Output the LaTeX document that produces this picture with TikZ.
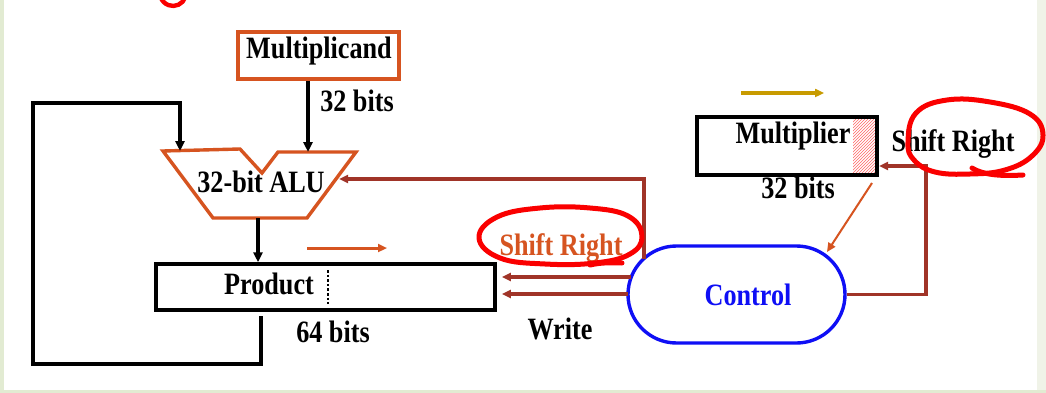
\documentclass[tikz,border=0pt]{standalone}
\usepackage{fontspec}
\setmainfont{Liberation Serif}
\usetikzlibrary{arrows.meta,patterns}
\definecolor{orng}{RGB}{214,84,32}
\definecolor{wire}{RGB}{160,52,40}
\definecolor{gold}{RGB}{200,155,0}
\definecolor{ctrlblue}{RGB}{15,15,245}
\definecolor{pen}{RGB}{250,0,0}
\definecolor{slideleft}{RGB}{226,235,210}
\definecolor{slideright}{RGB}{240,243,232}
\begin{document}
\begin{tikzpicture}[x=1pt,y=-1pt,
  lbl/.style={font=\fontsize{27}{30}\selectfont\bfseries,inner sep=0pt,anchor=base,xscale=0.97,yscale=1.15},
  blk/.style={line width=3.5pt,black},
  tip/.style={-{Triangle[length=10pt,width=9pt]}},
  smalltip/.style={-{Triangle[length=9pt,width=8pt]}},
  redwire/.style={line width=3.2pt,wire},
  hand/.style={line width=5pt,pen,line cap=round,line join=round},
  regbox/.style={draw,line width=3.5pt,inner sep=0pt}]

% page and slide margins
\useasboundingbox (0,0) rectangle (1046,393);
\fill[slideright] (0,0) rectangle (1046,393);
\fill[slideleft] (0,0) rectangle (4,393);
\fill[slideleft] (0,390) rectangle (1046,393);
\fill[white] (4,0) rectangle (1037,390);

% multiplicand register
\node[regbox,draw=orng,minimum width=161pt,minimum height=47pt] (Multiplicand) at (318.5,55.5) {};
\node[lbl] (mcandlbl) at (319,59) {Multiplicand};

% ALU outline with the notched top edge
\coordinate (alu-tl) at (163,151);
\coordinate (alu-n1) at (240,149);
\coordinate (alu-nb) at (262,173);
\coordinate (alu-n2) at (278,152);
\coordinate (alu-tr) at (356,152);
\coordinate (alu-br) at (307,218);
\coordinate (alu-bl) at (213,218);
\draw[orng,line width=3.4pt,line join=miter]
  (alu-tl) -- (alu-n1) -- (alu-nb) -- (alu-n2) -- (alu-tr) -- (alu-br) -- (alu-bl) -- cycle;
\node[lbl] (alulbl) at (261,192) {32-bit ALU};
\coordinate (alu-in1) at (180,151);
\coordinate (alu-in2) at (308,152);
\coordinate (alu-out) at (258,218);
\coordinate (alu-ctl) at (339,179);

% product register
\node[regbox,minimum width=339pt,minimum height=46pt] (Product) at (325.5,287) {};
\node[lbl] (productlbl) at (269,294) {Product};
\draw[line width=2.6pt,dotted] (328,270) -- (328,304);
\node[lbl] (bits64) at (333,342) {64 bits};

% multiplier register with its hatched low bit
\fill[pattern=north east lines,pattern color=red!60] (853,118) rectangle (876,175);
\node[regbox,minimum width=180pt,minimum height=58pt] (Multiplier) at (787,146) {};
\node[lbl] (multlbl) at (793,143) {Multiplier};
\node[lbl] (bits32b) at (798,198) {32 bits};

% control unit
\node[draw=ctrlblue,line width=3.4pt,minimum width=217pt,minimum height=97pt,
      rounded corners=48.5pt,inner sep=0pt] (Control) at (736.5,294.5) {};
\node[lbl,text=ctrlblue] (ctrllbl) at (748,305) {Control};

% datapath
\draw[blk,tip] (Multiplicand.south -| alu-in2) -- (alu-in2);
\node[lbl] (bits32a) at (357,112) {32 bits};
\draw[blk,tip] (alu-out) -- (Product.north -| alu-out);
\coordinate (fb0) at (261,316);
\draw[blk,tip] (fb0) -- (261,364) -- (33,364) -- (33,103) -- (180,103) -- (alu-in1);

% control signals
\coordinate (c-alu) at (644,258.5);
\coordinate (c-sh) at (631.3,277);
\coordinate (c-wr) at (628,294);
\draw[redwire,smalltip] (c-alu) -- (644,179) -- (alu-ctl);
\draw[redwire,smalltip] (c-sh) -- ([xshift=5pt]Product.east |- c-sh);
\draw[redwire,smalltip] (c-wr) -- ([xshift=5pt]Product.east |- c-wr);
\coordinate (m-in) at (879,166);
\draw[redwire,smalltip] (Control.east) -- (926,294.5) -- (926,166) -- (m-in);
\coordinate (m-out) at (872,183);
\coordinate (c-in) at (827,252);
\draw[orng,line width=2pt,smalltip] (m-out) -- (c-in);

% shift direction hints
\draw[orng,line width=3pt,smalltip] (307,248) -- (387,248);
\draw[gold,line width=3.8pt,smalltip] (741,93) -- (824,93);

% signal labels
\node[lbl,text=orng] (shiftP) at (561,255) {Shift Right};
\node[lbl] (writelbl) at (560,339) {Write};
\node[lbl] (shiftM) at (953,151) {Shift Right};

% pen annotations
\draw[hand] plot[smooth cycle,tension=0.7] coordinates
  {(479,238) (497,217) (540,208) (590,208) (628,216) (642,236) (630,254) (595,263) (545,264) (500,258)};
\draw[hand] (590,265) .. controls (603,262) and (612,263) .. (622,263);
\draw[hand] plot[smooth cycle,tension=0.7] coordinates
  {(908,142) (916,113) (947,100) (990,102) (1030,114) (1043,135) (1032,156) (1005,170) (970,174) (935,172) (914,160)};
\draw[hand] (972,168) .. controls (985,176) and (1005,176) .. (1023,175);
\draw[hand,line width=4.4pt] (185.2,-2.6) arc[start angle=20,end angle=160,radius=13];
\end{tikzpicture}
\end{document}
